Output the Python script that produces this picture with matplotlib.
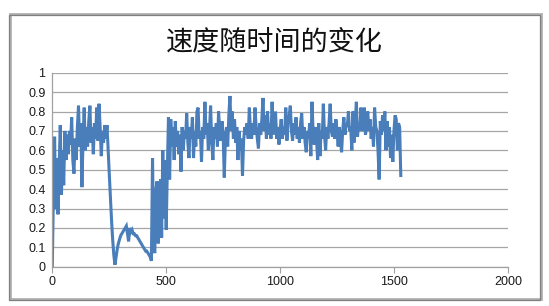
import matplotlib
matplotlib.use("Agg")
import matplotlib.pyplot as plt
from matplotlib.patches import Rectangle
from matplotlib.ticker import FuncFormatter
import numpy as np

plt.rcParams['font.family'] = ['Noto Sans CJK SC', 'DejaVu Sans']

title = "速度随时间的变化"
x_step = 5
speed = [
    0.00, 0.40, 0.67, 0.30, 0.56, 0.27, 0.52, 0.73, 0.37, 0.60,
    0.42, 0.70, 0.55, 0.68, 0.58, 0.70, 0.63, 0.77, 0.55, 0.48,
    0.66, 0.55, 0.72, 0.83, 0.62, 0.74, 0.41, 0.66, 0.82, 0.60,
    0.72, 0.62, 0.75, 0.83, 0.64, 0.72, 0.58, 0.74, 0.66, 0.82,
    0.65, 0.84, 0.72, 0.57, 0.70, 0.64, 0.73, 0.66, 0.73, 0.60,
    0.48, 0.36, 0.24, 0.14, 0.06, 0.01, 0.05, 0.09, 0.12, 0.14,
    0.16, 0.17, 0.18, 0.19, 0.20, 0.21, 0.17, 0.13, 0.20, 0.18,
    0.19, 0.17, 0.17, 0.16, 0.16, 0.15, 0.14, 0.13, 0.12, 0.11,
    0.10, 0.09, 0.08, 0.08, 0.07, 0.06, 0.05, 0.03, 0.56, 0.10,
    0.07, 0.40, 0.44, 0.12, 0.30, 0.45, 0.15, 0.60, 0.25, 0.55,
    0.19, 0.50, 0.77, 0.45, 0.76, 0.62, 0.72, 0.55, 0.75, 0.62,
    0.70, 0.58, 0.68, 0.49, 0.72, 0.60, 0.70, 0.66, 0.79, 0.64,
    0.56, 0.72, 0.66, 0.77, 0.56, 0.70, 0.62, 0.80, 0.82, 0.66,
    0.70, 0.54, 0.72, 0.66, 0.85, 0.68, 0.74, 0.60, 0.70, 0.83,
    0.64, 0.55, 0.72, 0.66, 0.74, 0.62, 0.80, 0.70, 0.65, 0.75,
    0.68, 0.46, 0.66, 0.72, 0.62, 0.78, 0.88, 0.70, 0.80, 0.66,
    0.76, 0.64, 0.72, 0.55, 0.70, 0.60, 0.66, 0.47, 0.65, 0.72,
    0.68, 0.74, 0.66, 0.82, 0.70, 0.66, 0.74, 0.68, 0.82, 0.72,
    0.66, 0.61, 0.74, 0.68, 0.76, 0.87, 0.70, 0.78, 0.66, 0.80,
    0.68, 0.74, 0.66, 0.85, 0.68, 0.74, 0.80, 0.66, 0.72, 0.63,
    0.70, 0.76, 0.66, 0.72, 0.68, 0.82, 0.65, 0.74, 0.78, 0.83,
    0.70, 0.65, 0.74, 0.68, 0.77, 0.66, 0.72, 0.64, 0.74, 0.79,
    0.66, 0.72, 0.64, 0.59, 0.70, 0.66, 0.74, 0.57, 0.85, 0.70,
    0.63, 0.72, 0.66, 0.55, 0.74, 0.57, 0.70, 0.66, 0.84, 0.68,
    0.60, 0.72, 0.66, 0.74, 0.84, 0.70, 0.67, 0.74, 0.66, 0.76,
    0.70, 0.62, 0.72, 0.66, 0.59, 0.70, 0.77, 0.68, 0.74, 0.72,
    0.80, 0.70, 0.72, 0.60, 0.80, 0.64, 0.74, 0.85, 0.67, 0.74,
    0.70, 0.82, 0.72, 0.70, 0.82, 0.68, 0.72, 0.80, 0.70, 0.76,
    0.66, 0.72, 0.62, 0.82, 0.72, 0.70, 0.60, 0.45, 0.75, 0.68,
    0.78, 0.70, 0.80, 0.60, 0.75, 0.62, 0.72, 0.56, 0.68, 0.54,
    0.70, 0.78, 0.76, 0.60, 0.74, 0.72, 0.47,
]
time = [i * x_step for i in range(len(speed))]

x_ticks = [0, 500, 1000, 1500, 2000]
y_ticks = [0, 0.1, 0.2, 0.3, 0.4, 0.5, 0.6, 0.7, 0.8, 0.9, 1]

fig = plt.figure(figsize=(5.49, 3.06), dpi=100)
fig.patch.set_facecolor('white')

# outer chart frame
fig.patches.append(Rectangle((0.019, 0.022), 0.966, 0.931, transform=fig.transFigure,
                             fill=False, edgecolor='#b0b0b0', linewidth=2.0, zorder=0))
fig.patches.append(Rectangle((0.017, 0.0196), 0.966, 0.931, transform=fig.transFigure,
                             fill=False, edgecolor='#7f7f7f', linewidth=0.9, zorder=1))

ax = fig.add_axes([0.0953, 0.1284, 0.8297, 0.634])
ax.plot(time, speed, color='#4A7EBB', linewidth=2.2, solid_joinstyle='miter')

ax.set_xlim(0, 2000)
ax.set_ylim(0, 1)
ax.set_xticks(x_ticks)
ax.set_yticks(y_ticks)
ax.yaxis.set_major_formatter(FuncFormatter(lambda v, p: ('%g' % round(v, 1))))
ax.grid(axis='y', color='#a6a6a6', linewidth=0.9)
ax.set_axisbelow(True)
for s in ['top', 'right']:
    ax.spines[s].set_visible(False)
for s in ['left', 'bottom']:
    ax.spines[s].set_color('#a0a0a0')
    ax.spines[s].set_linewidth(0.9)
ax.tick_params(axis='x', length=4, color='#a0a0a0', labelsize=9, pad=3, labelcolor='#1a1a1a')
ax.tick_params(axis='y', length=0, labelsize=9, pad=5, labelcolor='#1a1a1a')
for lab in ax.get_xticklabels() + ax.get_yticklabels():
    lab.set_family(['Liberation Sans', 'DejaVu Sans'])

fig.text(0.5, 0.862, title, ha='center', va='center', fontsize=19.5, color='#111111',
         family=['Noto Sans CJK SC', 'DejaVu Sans'])

fig.savefig('out.png', dpi=100)
